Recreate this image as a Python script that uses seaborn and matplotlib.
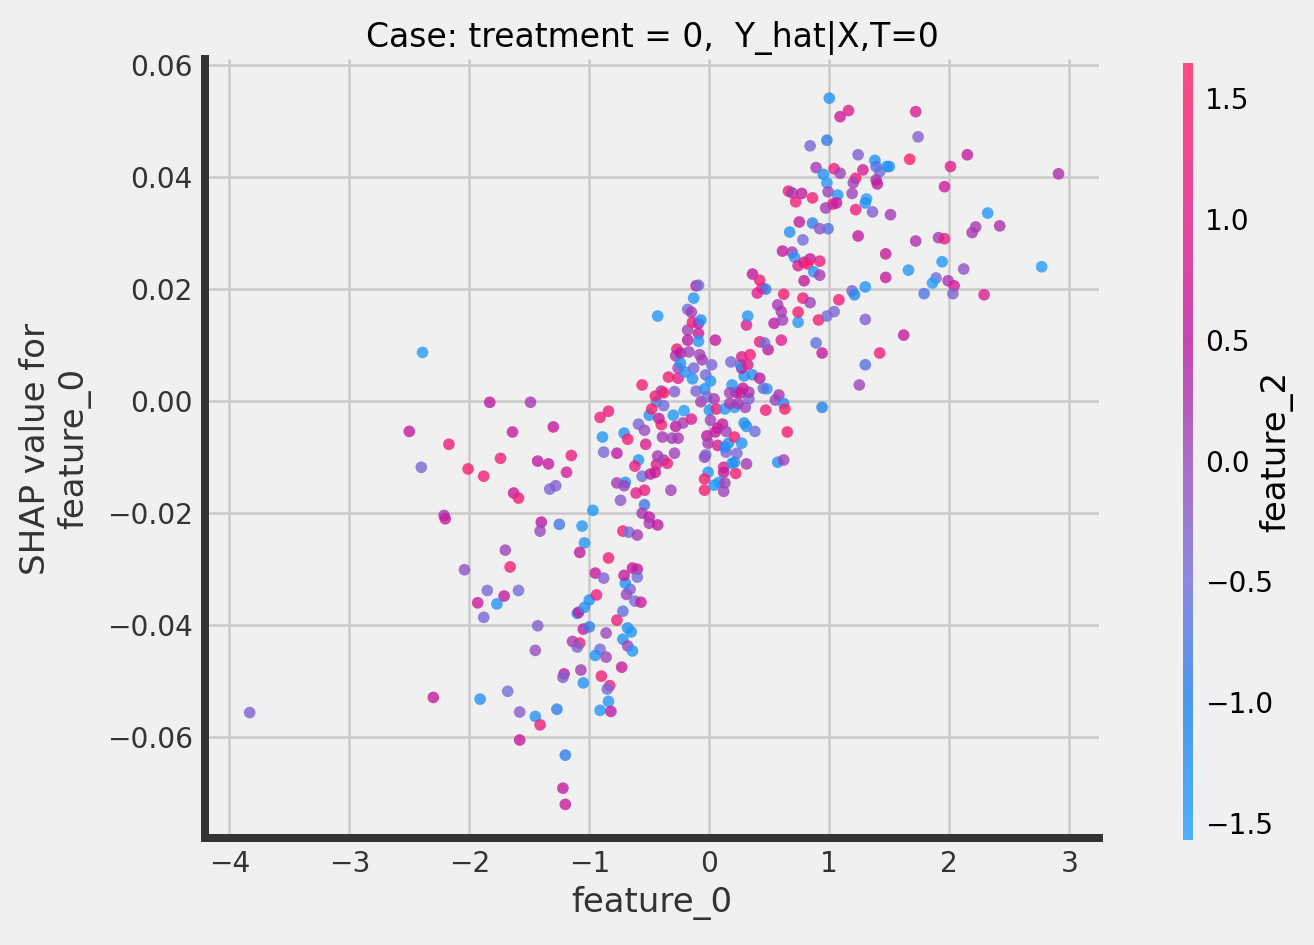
import matplotlib
matplotlib.use("Agg")
import matplotlib.pyplot as plt
from matplotlib.cm import ScalarMappable
from matplotlib.colors import LinearSegmentedColormap, Normalize
import pandas as pd
import seaborn as sns

# values (x = feature_0, y = SHAP value, colour = feature_2)
feature_0 = [
    # left tail
    -3.83, -2.39, -2.50, -2.40, -2.17, -1.83, -2.01, -1.88, -1.49, -1.64,
    -1.30, -1.74, -1.43, -1.34, -1.19, -1.15, -1.33, -1.28, -1.63, -1.59,
    -2.21, -2.20, -1.40, -1.41, -1.25, -1.70, -1.66, -2.04, -1.93, -1.85,
    -1.88, -1.59, -1.71, -1.77, -1.43, -1.45, -2.30, -1.91, -1.68, -1.58,
    -1.58, -1.45, -1.41, -1.27, -1.20, -1.22, -1.20,
    # lower middle
    -1.10, -1.09, -1.04, -1.00, -0.94, -1.05, -1.00, -1.14, -1.08, -1.10,
    -0.86, -0.91, -0.95, -0.86, -1.07, -1.21, -1.22, -1.05, -0.90, -0.83,
    -0.85, -0.84, -0.91, -0.82, -0.73, -0.77, -0.72, -0.68, -0.65, -0.72,
    -0.68, -0.64, -0.69, -0.66, -0.62, -0.57, -0.70,
    # central cloud
    -0.97, -1.06, -1.04, -1.08, -0.84, -0.95, -0.88, -0.72, -0.67, -0.60,
    -0.74, -0.77, -0.70, -0.71, -0.61, -0.54, -0.54, -0.56, -0.50, -0.50,
    -0.43, -0.64, -0.60, -0.71, -0.60, -0.32, -0.89, -0.88, -0.77, -0.91,
    -0.84, -0.71, -0.68, -0.59, -0.62, -0.56, -0.53, -0.59, -0.54, -0.49,
    -0.45, -0.44, -0.43, -0.38, -0.35, -0.39, -0.31, -0.26, -0.29, -0.50,
    -0.44, -0.48, -0.40, -0.42, -0.38, -0.30, -0.21, -0.28, -0.22, -0.15,
    -0.45, -0.40, -0.38, -0.29, -0.56, -0.34, -0.26, -0.27, -0.28, -0.24,
    -0.17, -0.26, -0.24, -0.20, -0.18, -0.18, -0.14, -0.09, -0.09, -0.09,
    -0.07, -0.13, -0.14, -0.11, -0.08, -0.06, -0.03, -0.04, 0.01, 0.02,
    -0.07, -0.02, 0.00, 0.06, 0.04, 0.01, 0.07, -0.02, -0.01, -0.04,
    -0.03, -0.01, -0.04, -0.04, 0.04, 0.07, 0.12, 0.12, 0.08, 0.13,
    0.12, 0.22, 0.19, 0.21, 0.23, 0.31, 0.14, 0.13, 0.16, 0.05,
    0.11, 0.14, 0.21, 0.27, 0.29, 0.31, 0.38, 0.13, 0.21, 0.17,
    0.24, 0.30, 0.33, 0.33, 0.26, 0.22, 0.19, 0.28, 0.17, 0.36,
    0.42, 0.48, 0.45, 0.29, 0.27, 0.26, 0.32, 0.34, 0.27, 0.18,
    0.42, 0.49, 0.46, 0.60, 0.05, 0.31, 0.54, 0.61, 0.74, 0.55,
    0.58, 0.62, 0.63, 0.47, 0.65, 0.57, 0.62,
    # right of centre
    0.91, 1.62, 0.89, 0.94, 1.42, 1.30, 1.25, 0.94,
    # upper middle
    0.66, 0.69, 0.77, 0.72, 0.75, 0.67, 0.78, 0.61, 0.69, 0.71,
    0.74, 0.79, 0.79, 0.36, 0.42, 0.44, 0.47, 0.40, 0.62, 0.78,
    0.57, 0.60, 0.74, 0.32, -0.11, -0.09, -0.13, -0.18, -0.15, -0.43,
    # upper right
    1.00, 1.09, 1.16, 1.72, 1.74, 0.98, 0.84, 1.24, 1.38, 1.39,
    1.42, 1.48, 1.50, 1.67, 2.15, 2.01, 1.96, 2.91, 0.89, 1.04,
    1.09, 1.28, 0.95, 0.98, 1.22, 1.20, 1.39, 1.40, 0.99, 1.07,
    1.19, 0.86, 1.31, 1.30, 1.03, 1.06, 0.97, 1.22, 1.36, 1.51,
    0.86, 0.92, 0.99, 1.24, 1.72, 1.91, 1.96, 2.22, 2.19, 2.42,
    2.32, 1.47, 0.84, 0.92, 0.82, 0.87, 0.92, 1.47, 1.66, 1.94,
    2.12, 2.77, 1.89, 1.86, 1.99, 2.04, 1.79, 2.03, 2.29, 1.19,
    1.21, 1.30, 1.08, 0.84, 1.04, 0.98, 1.30,
]

shap_feature_0 = [
    -0.0556, 0.0087, -0.0054, -0.0118, -0.0077, -0.0002, -0.0121, -0.0134, -0.0002, -0.0055,
    -0.0046, -0.0102, -0.0107, -0.0112, -0.0127, -0.0097, -0.0157, -0.0151, -0.0164, -0.0173,
    -0.0204, -0.0210, -0.0216, -0.0232, -0.0220, -0.0266, -0.0296, -0.0301, -0.0360, -0.0338,
    -0.0386, -0.0338, -0.0348, -0.0362, -0.0401, -0.0445, -0.0529, -0.0532, -0.0518, -0.0555,
    -0.0605, -0.0563, -0.0578, -0.0550, -0.0632, -0.0691, -0.0720,
    -0.0379, -0.0377, -0.0368, -0.0355, -0.0346, -0.0407, -0.0403, -0.0429, -0.0432, -0.0439,
    -0.0414, -0.0443, -0.0454, -0.0457, -0.0480, -0.0487, -0.0493, -0.0503, -0.0491, -0.0508,
    -0.0514, -0.0536, -0.0552, -0.0554, -0.0475, -0.0391, -0.0375, -0.0405, -0.0412, -0.0425,
    -0.0437, -0.0446, -0.0345, -0.0336, -0.0357, -0.0359, -0.0325,
    -0.0195, -0.0223, -0.0253, -0.0270, -0.0280, -0.0307, -0.0316, -0.0232, -0.0234, -0.0239,
    -0.0177, -0.0146, -0.0145, -0.0151, -0.0164, -0.0159, -0.0185, -0.0200, -0.0207, -0.0218,
    -0.0221, -0.0298, -0.0300, -0.0311, -0.0314, -0.0159, -0.0064, -0.0091, -0.0093, -0.0029,
    -0.0018, -0.0057, -0.0068, -0.0105, -0.0116, -0.0134, -0.0077, -0.0041, -0.0052, -0.0130,
    -0.0127, -0.0113, -0.0098, -0.0105, -0.0111, -0.0064, -0.0066, -0.0066, -0.0093, -0.0025,
    -0.0001, -0.0014, -0.0042, -0.0031, -0.0008, -0.0025, -0.0017, -0.0045, -0.0039, -0.0032,
    0.0009, 0.0018, 0.0015, 0.0017, 0.0029, 0.0043, 0.0041, 0.0093, 0.0081, 0.0086,
    0.0088, 0.0059, 0.0068, 0.0052, 0.0127, 0.0109, 0.0141, 0.0139, 0.0121, 0.0107,
    0.0145, 0.0059, 0.0040, 0.0018, 0.0083, 0.0074, 0.0047, 0.0022, 0.0036, 0.0065,
    -0.0001, 0.0008, -0.0016, -0.0014, 0.0004, -0.0034, -0.0048, -0.0062, -0.0075, -0.0100,
    -0.0096, -0.0127, -0.0139, -0.0159, -0.0150, -0.0079, -0.0118, -0.0127, -0.0145, -0.0146,
    -0.0161, -0.0129, -0.0111, -0.0109, -0.0093, -0.0112, -0.0091, -0.0082, -0.0075, -0.0055,
    -0.0041, -0.0054, -0.0064, -0.0075, -0.0039, -0.0045, -0.0054, -0.0014, -0.0011, -0.0004,
    -0.0004, -0.0011, 0.0004, 0.0016, 0.0015, 0.0016, 0.0029, 0.0023, 0.0015, 0.0047,
    0.0041, 0.0022, 0.0023, 0.0045, 0.0059, 0.0065, 0.0065, 0.0083, 0.0079, 0.0070,
    0.0106, 0.0092, 0.0104, 0.0109, 0.0109, 0.0136, 0.0139, 0.0145, 0.0141, 0.0002,
    0.0011, -0.0004, -0.0014, -0.0016, -0.0055, -0.0109, -0.0105,
    0.0145, 0.0118, 0.0104, 0.0086, 0.0086, 0.0065, 0.0029, -0.0011,
    0.0375, 0.0372, 0.0371, 0.0356, 0.0320, 0.0302, 0.0288, 0.0268, 0.0266, 0.0257,
    0.0242, 0.0248, 0.0215, 0.0227, 0.0216, 0.0202, 0.0200, 0.0193, 0.0191, 0.0184,
    0.0172, 0.0160, 0.0159, 0.0152, 0.0206, 0.0207, 0.0184, 0.0164, 0.0159, 0.0152,
    0.0541, 0.0508, 0.0519, 0.0517, 0.0472, 0.0466, 0.0456, 0.0440, 0.0430, 0.0419,
    0.0410, 0.0419, 0.0419, 0.0432, 0.0440, 0.0419, 0.0383, 0.0406, 0.0417, 0.0415,
    0.0407, 0.0413, 0.0405, 0.0390, 0.0398, 0.0390, 0.0395, 0.0388, 0.0374, 0.0368,
    0.0371, 0.0363, 0.0361, 0.0354, 0.0352, 0.0354, 0.0345, 0.0342, 0.0338, 0.0333,
    0.0318, 0.0308, 0.0308, 0.0295, 0.0286, 0.0292, 0.0290, 0.0311, 0.0301, 0.0313,
    0.0336, 0.0263, 0.0254, 0.0250, 0.0245, 0.0231, 0.0225, 0.0221, 0.0234, 0.0249,
    0.0236, 0.0240, 0.0220, 0.0211, 0.0215, 0.0206, 0.0192, 0.0192, 0.0190, 0.0197,
    0.0190, 0.0204, 0.0181, 0.0176, 0.0160, 0.0152, 0.0146,
]

feature_2 = [
    -0.3, -1.5, 0.6, -0.4, 1.2, 0.5, 1.4, 1.3, 0.2, 0.6,
    0.6, 1.3, 0.5, 0.6, 0.8, 1.2, -0.4, -0.3, 0.6, 1.3,
    0.2, 0.6, 0.5, 0.0, -0.8, 0.1, 1.3, -0.1, 0.7, -0.4,
    -0.4, -0.5, 0.5, -1.3, -0.3, 0.0, 0.6, -1.3, -0.5, -0.2,
    0.6, -1.3, 1.2, -0.9, -0.9, 0.6, 0.6,
    -1.3, 0.6, -1.3, -1.3, 1.2, 0.6, -0.9, 0.2, 1.4, -0.3,
    0.1, -0.5, -1.3, 0.1, 0.2, 0.5, -0.3, -1.3, 1.4, 1.3,
    -0.4, -1.4, -1.4, 0.5, 0.6, 1.3, -0.6, -1.3, -1.4, -1.3,
    0.1, -1.4, 0.1, -0.3, -0.5, 0.7, -1.3,
    -1.4, -1.4, -1.4, 0.5, 1.4, 0.6, -0.3, 1.3, -0.5, 0.2,
    -0.2, 0.2, -1.3, 0.1, 1.0, 1.2, -0.8, 0.2, 0.5, 0.2,
    0.5, 0.6, 0.6, 0.6, -0.5, 0.1, -1.4, -0.4, 0.5, 1.3,
    1.2, -1.3, 1.4, -1.4, 1.1, -0.5, 0.9, -0.4, 0.0, 0.5,
    0.6, 0.9, 0.2, 0.1, 1.2, 0.2, 0.1, 0.2, 0.1, -1.3,
    -1.4, 1.4, 1.5, 0.6, -0.5, -1.4, -1.5, 0.5, 0.2, 0.9,
    1.4, 0.2, 1.5, -0.3, 1.4, 1.4, 1.0, 1.3, 0.2, 0.5,
    0.1, 0.1, -1.3, -1.3, 0.1, 0.5, 1.4, 0.6, 0.7, -1.4,
    -1.3, -0.4, -1.3, -0.4, 0.1, 0.2, -0.4, -1.3, -1.4, -0.4,
    0.2, -0.5, -1.4, 1.3, 0.2, 0.1, 0.6, 0.5, 0.2, 0.1,
    -0.3, -1.4, 1.4, 1.4, -1.4, 0.9, 1.0, 0.5, -1.4, 0.1,
    0.1, 1.4, -1.3, -1.3, -0.4, 0.2, -0.4, -1.2, -1.3, 0.6,
    0.6, 0.1, 1.4, -1.3, -1.3, -1.3, -0.5, -1.4, -1.4, 0.2,
    0.2, 0.1, -0.4, 0.2, 0.6, 0.5, -1.4, 0.6, 0.1, -1.3,
    0.5, -1.5, -0.6, -1.3, 0.5, -1.3, 0.9, 1.4, 1.0, -0.4,
    1.3, 0.5, -0.4, 1.0, 0.6, 0.9, 0.5, 0.1, -1.4, 0.1,
    0.2, -1.3, 1.5, 1.3, 1.4, -1.3, 0.1,
    1.4, 0.6, -0.6, 0.6, 1.3, -0.7, 0.1, -1.0,
    1.2, 0.2, 0.6, 1.3, 0.6, -1.3, -0.5, 0.6, 0.2, -1.4,
    0.9, 0.7, 0.6, 0.5, 1.2, 1.4, -0.9, 1.0, 1.4, 1.3,
    0.2, 0.2, 1.4, -1.4, 0.7, -0.5, -1.4, -0.5, 0.2, -1.4,
    -1.3, 0.7, 0.9, 0.8, -0.3, -0.9, -0.4, -0.3, -1.3, -0.7,
    -0.5, -1.4, -1.3, 1.5, 0.6, 1.0, 0.7, 0.3, 0.2, 1.3,
    0.1, 0.8, -1.3, -1.5, 1.2, 0.1, 0.2, 0.5, 0.1, -1.3,
    0.1, 1.4, -1.5, -1.3, 1.3, 0.6, 0.2, 1.3, -0.3, 0.2,
    -0.9, -0.1, -0.7, 0.6, 0.3, 0.2, 1.1, 0.2, 0.2, 0.3,
    -1.4, 0.6, 0.6, 1.2, 1.5, -1.4, 0.2, 0.6, -1.4, -1.4,
    -0.1, -1.5, -0.5, -1.5, 0.2, 0.8, -0.7, -0.3, 0.9, -0.3,
    -1.2, -1.4, 1.4, 0.1, -0.4, -0.5, -0.3,
]

colorbar_ticks = [-1.5, -1.0, -0.5, 0.0, 0.5, 1.0, 1.5]
x_ticks = [-4, -3, -2, -1, 0, 1, 2, 3]
y_ticks = [-0.06, -0.04, -0.02, 0.00, 0.02, 0.04, 0.06]

df = pd.DataFrame({
    "feature_0": feature_0,
    "shap": shap_feature_0,
    "feature_2": feature_2,
})

plt.style.use("fivethirtyeight")
plt.rcParams["font.family"] = ["DejaVu Sans"]

vmin, vmax = -1.57, 1.645
cmap = LinearSegmentedColormap.from_list(
    "shap_red_blue",
    [(0.0, "#28A0FC"), (0.177, "#1F82EB"), (0.333, "#736EDC"), (0.488, "#984DBE"),
     (0.644, "#BE1BA2"), (0.799, "#E31E8C"), (1.0, "#FF2064")],
)
axis_color = "#333333"

W, H, DPI = 1314, 945, 144
fig = plt.figure(figsize=(W / DPI, H / DPI), dpi=DPI, facecolor="#f0f0f0")
ax = fig.add_axes([205 / W, 107 / H, 894 / W, 779 / H])

sns.scatterplot(
    data=df, x="feature_0", y="shap", hue="feature_2",
    palette=cmap, hue_norm=(vmin, vmax), s=34, alpha=0.8,
    linewidth=0, legend=False, ax=ax, zorder=3,
)

ax.set_xlim(-4.2025, 3.2475)
ax.set_ylim(-0.078, 0.0611)
ax.set_xticks(x_ticks)
ax.set_yticks(y_ticks)
ax.grid(True, color="#cbcbcb", linewidth=1.3)
ax.set_axisbelow(True)

for side in ["top", "right"]:
    ax.spines[side].set_visible(False)
for side in ["left", "bottom"]:
    ax.spines[side].set_visible(True)
    ax.spines[side].set_color(axis_color)
    ax.spines[side].set_linewidth(4)

ax.tick_params(labelsize=14, labelcolor=axis_color, length=0, pad=6)
ax.set_xlabel("feature_0", fontsize=17, color=axis_color)
ax.set_ylabel("SHAP value for\nfeature_0", fontsize=17, color=axis_color, labelpad=8)
ax.set_title("Case: treatment = 0,  Y_hat|X,T=0", fontsize=16.5)

cax = fig.add_axes([1183 / W, 105 / H, 10 / W, 777 / H])
sm = ScalarMappable(norm=Normalize(vmin, vmax), cmap=cmap)
cb = fig.colorbar(sm, cax=cax, alpha=0.8)
cb.outline.set_visible(False)
cb.set_ticks(colorbar_ticks)
cb.ax.tick_params(labelsize=14, length=0, pad=6)
cb.ax.grid(False)
cb.set_label("feature_2", fontsize=17, labelpad=-7)

fig.savefig("out.png", dpi=DPI, facecolor="#f0f0f0")
